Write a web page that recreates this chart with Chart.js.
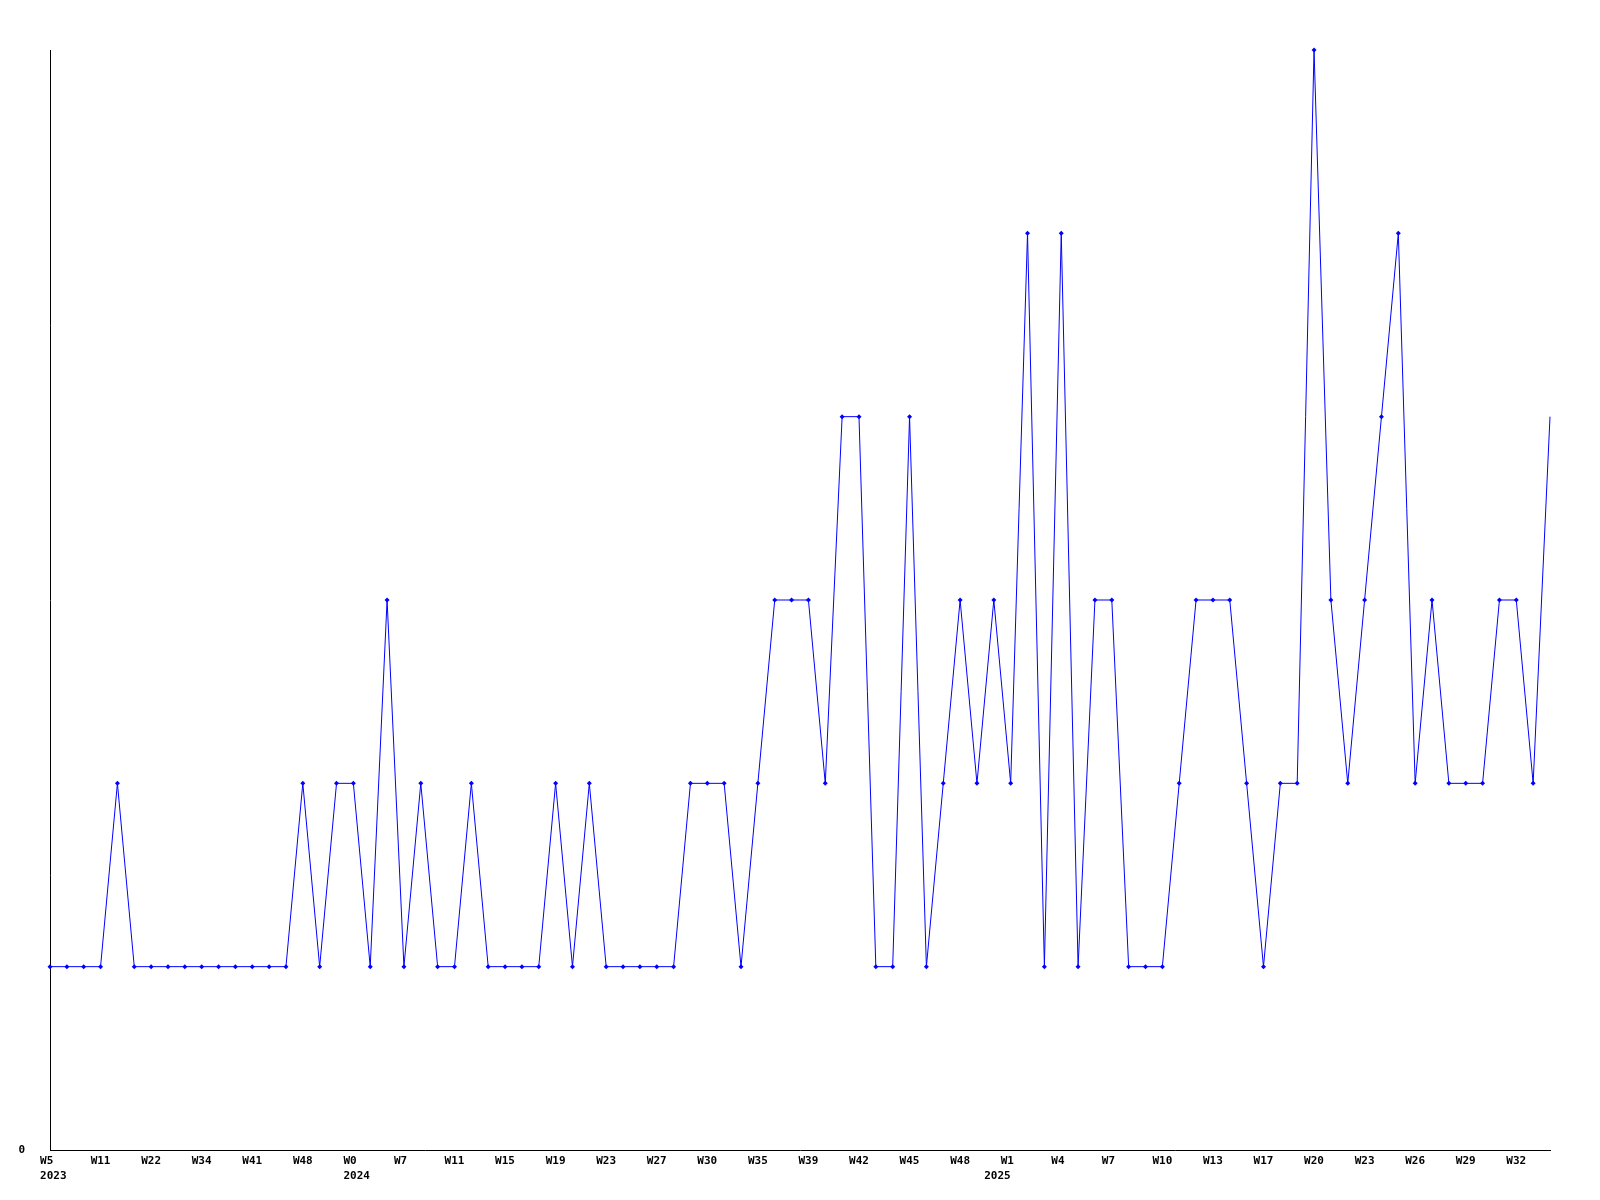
<!DOCTYPE html>
<html>
<head>
<meta charset="utf-8">
<script src="https://cdn.jsdelivr.net/npm/chart.js@4"></script>
<style>
  body { margin: 0; background: #fff; }
  canvas { display: block; }
</style>
</head>
<body>
<canvas id="chart" width="1600" height="1200"></canvas>
<script>
// weekly counts, one per week
const counts = [
    1, 1, 1, 1, 2, 1, 1, 1, 1, 1,
    1, 1, 1, 1, 1, 2, 1, 2, 2, 1,
    3, 1, 2, 1, 1, 2, 1, 1, 1, 1,
    2, 1, 2, 1, 1, 1, 1, 1, 2, 2,
    2, 1, 2, 3, 3, 3, 2, 4, 4, 1,
    1, 4, 1, 2, 3, 2, 3, 2, 5, 1,
    5, 1, 3, 3, 1, 1, 1, 2, 3, 3,
    3, 2, 1, 2, 2, 6, 3, 2, 3, 4,
    5, 2, 3, 2, 2, 2, 3, 3, 2, 4
];

// labels shown on every third week
const tickLabels = [
    'W5', 'W11', 'W22', 'W34', 'W41', 'W48', 'W0', 'W7', 'W11', 'W15',
    'W19', 'W23', 'W27', 'W30', 'W35', 'W39', 'W42', 'W45', 'W48', 'W1',
    'W4', 'W7', 'W10', 'W13', 'W17', 'W20', 'W23', 'W26', 'W29', 'W32'
];
const yearTicks = [0, 6, 19];
const yearLabels = ['2023', '2024', '2025'];
const tickEvery = 3;

const categories = counts.map((c, i) => {
    if (i % tickEvery !== 0) return '';
    const t = i / tickEvery;
    const y = yearTicks.indexOf(t);
    return y >= 0 ? [tickLabels[t], yearLabels[y]] : tickLabels[t];
});

// labels in the original sit left-aligned a little before the point,
// pad them so centring lands them in about the same place
function padLabel(l) {
    if (Array.isArray(l)) {
        // 2025 starts mid-week, so its label sits further left
        const year = l[1] === '2025' ? l[1] + '    ' : ' ' + l[1];
        return [l[0].padEnd(3, ' '), year];
    }
    return l ? l.padEnd(3, ' ') : '';
}

const font = { family: '"DejaVu Sans Mono", monospace', size: 11, weight: 'bold', lineHeight: 15 / 11 };
const last = counts.length - 1;

new Chart(document.getElementById('chart').getContext('2d'), {
    type: 'line',
    data: {
        labels: categories,
        datasets: [{
            data: counts,
            borderColor: '#0000ff',
            backgroundColor: '#0000ff',
            borderWidth: 1,
            tension: 0,
            fill: false,
            pointStyle: 'rectRot',
            pointRadius: ctx => ctx.dataIndex === last ? 0 : 2.5,
            pointBorderWidth: 0,
            clip: false,
        }]
    },
    options: {
        responsive: false,
        animation: false,
        layout: { padding: { left: 0, right: 50, top: 50, bottom: 12 } },
        plugins: { legend: { display: false }, tooltip: { enabled: false } },
        scales: {
            x: {
                offset: false,
                grid: { display: true, color: 'rgba(0,0,0,0)', drawTicks: false },
                border: { display: true, color: '#000', width: 1 },
                ticks: {
                    autoSkip: false,
                    maxRotation: 0,
                    padding: 4,
                    color: '#000',
                    font: font,
                    callback: function (v) { return padLabel(this.getLabelForValue(v)); },
                },
            },
            y: {
                min: 0,
                max: 6,
                afterFit: s => { s.width = 50; },
                grid: { display: true, color: 'rgba(0,0,0,0)', drawTicks: false },
                border: { display: true, color: '#000', width: 1 },
                ticks: {
                    stepSize: 1,
                    padding: 25,
                    color: '#000',
                    font: font,
                    callback: v => v === 0 ? '0' : '',
                },
            },
        },
    },
});
</script>
</body>
</html>
